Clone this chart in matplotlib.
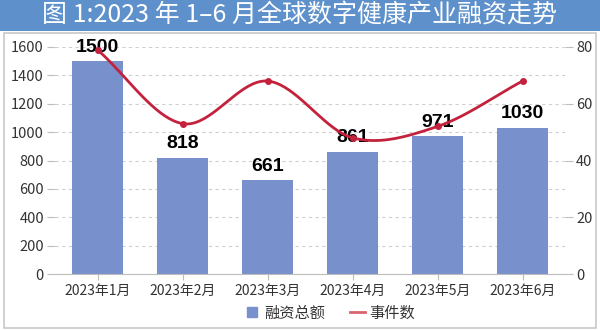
import numpy as np
import matplotlib
matplotlib.use("Agg")
import matplotlib.pyplot as plt
from matplotlib.patches import Rectangle
from matplotlib.lines import Line2D

plt.rcParams['font.family'] = ['Noto Sans CJK SC', 'DejaVu Sans']

months = ["2023年1月", "2023年2月", "2023年3月", "2023年4月", "2023年5月", "2023年6月"]
amounts = [1500, 818, 661, 861, 971, 1030]
events = [79, 53, 68, 48, 52, 68]
left_ticks = [0, 200, 400, 600, 800, 1000, 1200, 1400, 1600]
right_ticks = [0, 20, 40, 60, 80]
title = "图 1:2023 年 1–6 月全球数字健康产业融资走势"

bar_color = "#7890cc"
line_color = "#c4223c"


def cardinal_spline(x, y, n=40, tension=0.5):
    """Smooth curve through the given points (Catmull-Rom style)."""
    x = np.asarray(x, float)
    y = np.asarray(y, float)
    px = np.concatenate([[2 * x[0] - x[1]], x, [2 * x[-1] - x[-2]]])
    py = np.concatenate([[2 * y[0] - y[1]], y, [2 * y[-1] - y[-2]]])
    xs, ys = [], []
    t = np.linspace(0, 1, n)
    for i in range(1, len(px) - 2):
        m1x = tension * (px[i + 1] - px[i - 1])
        m2x = tension * (px[i + 2] - px[i])
        m1y = tension * (py[i + 1] - py[i - 1])
        m2y = tension * (py[i + 2] - py[i])
        h00 = 2 * t**3 - 3 * t**2 + 1
        h10 = t**3 - 2 * t**2 + t
        h01 = -2 * t**3 + 3 * t**2
        h11 = t**3 - t**2
        xs.append(h00 * px[i] + h10 * m1x + h01 * px[i + 1] + h11 * m2x)
        ys.append(h00 * py[i] + h10 * m1y + h01 * py[i + 1] + h11 * m2y)
    return np.concatenate(xs), np.concatenate(ys)


W, H = 600, 330
fig = plt.figure(figsize=(W / 100, H / 100), dpi=100)
fig.patch.set_facecolor("white")

# title band
fig.patches.append(Rectangle((0, 1 - 31 / H), 1, 31 / H, transform=fig.transFigure,
                             facecolor="#5e91cb", edgecolor="none", zorder=0))
fig.text(0.5, 1 - 16 / H, title, color="white", fontsize=18,
         ha="center", va="center")
# chart frame
fig.patches.append(Rectangle((4 / W, 2 / H), 592 / W, (H - 35) / H, transform=fig.transFigure,
                             facecolor="none", edgecolor="#c8c8c8", linewidth=1.2, zorder=0))

ax = fig.add_axes([55 / W, 1 - 274 / H, 510 / W, (274 - 47) / H])
x = np.arange(len(months))
bars = ax.bar(x, amounts, width=0.61, color=bar_color, zorder=2)
ax.set_xlim(-0.5, len(months) - 0.5)
ax.set_ylim(0, 1600)
ax.set_yticks(left_ticks)
ax.set_xticks(x)
ax.set_xticklabels(months)
ax.yaxis.grid(True, linestyle=(0, (3, 3)), color="#cfcfcf", linewidth=0.8)
ax.set_axisbelow(True)
for s in ["top", "left", "right"]:
    ax.spines[s].set_visible(False)
ax.spines["bottom"].set_color("#bdbdbd")
ax.tick_params(axis="y", length=6, color="#bdbdbd", labelsize=10.5, labelcolor="#333333", pad=2)
ax.tick_params(axis="x", length=4, color="#bdbdbd", labelsize=10, labelcolor="#333333", pad=3)

for xi, v in zip(x, amounts):
    ax.text(xi, v + 40, f"{v}", ha="center", va="bottom", fontsize=14,
            fontweight="bold", color="black", family="Liberation Sans", zorder=5, clip_on=False)

ax2 = ax.twinx()
ax2.set_ylim(0, 80)
ax2.set_yticks(right_ticks)
for s in ["top", "left", "right", "bottom"]:
    ax2.spines[s].set_visible(False)
ax2.tick_params(axis="y", length=6, color="#bdbdbd", labelsize=10.5, labelcolor="#333333", pad=2)
sx, sy = cardinal_spline(x, events)
ax2.plot(sx, sy, color=line_color, linewidth=2, zorder=4, clip_on=False)
ax2.plot(x, events, "o", color=line_color, markersize=4, zorder=4, clip_on=False)

handles = [Line2D([], [], marker="s", linestyle="none", color=bar_color, markersize=7),
           Line2D([], [], color="#d9636f", linewidth=2)]
fig.legend(handles, ["融资总额", "事件数"], loc="center", bbox_to_anchor=(330 / W, 1 - 313 / H),
           ncol=2, frameon=False, fontsize=11, handlelength=1.0, handletextpad=0.3,
           columnspacing=1.6, labelcolor="#333333")

fig.savefig("out.png", dpi=100)
